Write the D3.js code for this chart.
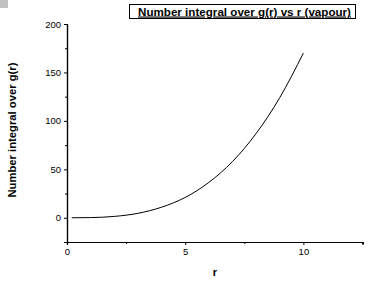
<!DOCTYPE html>
<html>
<head>
<meta charset="utf-8">
<script src="https://cdn.jsdelivr.net/npm/d3@7"></script>
<style>
  html, body { margin: 0; padding: 0; background: #fff; }
  svg { display: block; font-family: "Liberation Sans", Arial, sans-serif; }
</style>
</head>
<body>
<script>
// r values (Å) and cumulative number integral
const rValues = [0.2, 1, 2, 3, 4, 5, 6, 7, 8, 9, 10];
const nValues = [0, 0.2, 1.4, 4.6, 10.9, 21, 36.5, 58, 87, 124, 170];
const xTicks = [0, 5, 10];
const yTicks = [0, 50, 100, 150, 200];
const titleText = "Number integral over g(r) vs r (vapour)";
const xLabel = "r";
const yLabel = "Number integral over g(r)";

const W = 390, H = 284;
const svg = d3.select("body").append("svg").attr("width", W).attr("height", H);

// small grey marker in the corner
svg.append("rect").attr("x", 0).attr("y", 0).attr("width", 8).attr("height", 8).attr("fill", "#c0c0c0");

const x = d3.scaleLinear().domain([0, 12.5]).range([67, 362.5]);
const y = d3.scaleLinear().domain([-25, 200]).range([242, 24]);

const xAxis = svg.append("g").attr("transform", `translate(0,${y.range()[0]})`)
  .call(d3.axisBottom(x).tickValues(xTicks).tickSize(3).tickPadding(3));
svg.append("g").attr("transform", `translate(0,${y.range()[0]})`)
  .call(d3.axisBottom(x).tickValues([2.5, 7.5, 12.5]).tickSize(2).tickFormat(""));

const yAxis = svg.append("g").attr("transform", `translate(${x.range()[0]},0)`)
  .call(d3.axisLeft(y).tickValues(yTicks).tickSize(3).tickPadding(3));
svg.append("g").attr("transform", `translate(${x.range()[0]},0)`)
  .call(d3.axisLeft(y).tickValues([-25, 25, 75, 125, 175]).tickSize(2).tickFormat(""));

svg.selectAll(".domain").attr("stroke", "#000").attr("stroke-width", 1.2);
svg.selectAll(".tick line").attr("stroke", "#000");
svg.selectAll(".tick text").attr("font-size", 9.5).attr("fill", "#000")
  .attr("font-family", "Liberation Sans, Arial, sans-serif");

// curve
const line = d3.line().x((d, i) => x(rValues[i])).y(d => y(d)).curve(d3.curveMonotoneX);
svg.append("path").datum(nValues).attr("d", line)
  .attr("fill", "none").attr("stroke", "#000").attr("stroke-width", 1);

// axis titles
svg.append("text").attr("x", 215).attr("y", 276).attr("text-anchor", "middle")
  .attr("font-size", 11).attr("font-weight", "bold").text(xLabel);
svg.append("text").attr("transform", "translate(16,130) rotate(-90)")
  .attr("text-anchor", "middle").attr("font-size", 11).attr("font-weight", "bold")
  .attr("textLength", 135).attr("lengthAdjust", "spacingAndGlyphs").text(yLabel);

// boxed title
svg.append("rect").attr("x", 129.5).attr("y", 4.5).attr("width", 226).attr("height", 14)
  .attr("fill", "#fff").attr("stroke", "#000").attr("stroke-width", 1);
svg.append("text").attr("x", 138).attr("y", 15.5).attr("font-size", 11).attr("font-weight", "bold")
  .attr("text-decoration", "underline")
  .attr("textLength", 213).attr("lengthAdjust", "spacingAndGlyphs").text(titleText);
</script>
</body>
</html>
